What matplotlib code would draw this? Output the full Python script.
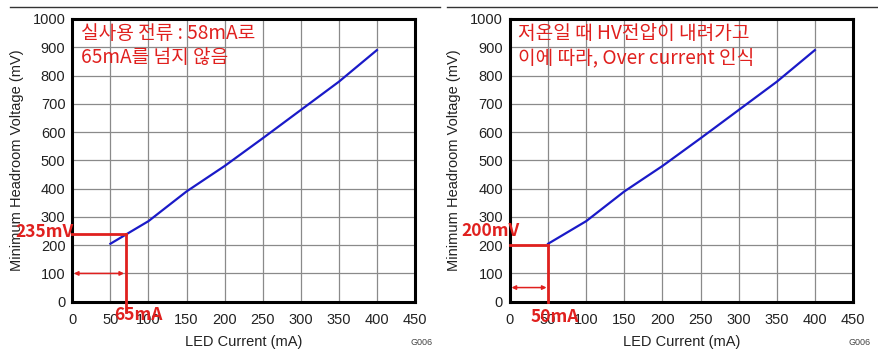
import matplotlib
matplotlib.use("Agg")
import matplotlib.pyplot as plt
from matplotlib.lines import Line2D

# Donnees
current_ma = [50, 100, 150, 200, 250, 300, 350, 400]
headroom_mv = [205, 285, 390, 480, 578, 678, 778, 890]

x_ticks = [0, 50, 100, 150, 200, 250, 300, 350, 400, 450]
y_ticks = [0, 100, 200, 300, 400, 500, 600, 700, 800, 900, 1000]

# Annotations des deux graphes
notes = ["실사용 전류 : 58mA로\n65mA를 넘지 않음",
         "저온일 때 HV전압이 내려가고\n이에 따라, Over current 인식"]
mark_current = [70, 50]
mark_volt = [238, 200]
mark_volt_label = ["235mV", "200mV"]
mark_current_label = ["65mA", "50mA"]

RED = "#e0201e"
BLUE = "#1a1ac8"
KR = ["Noto Sans CJK KR", "DejaVu Sans"]

plt.rcParams['font.family'] = ["Liberation Sans", "DejaVu Sans"]


def tracePanneau(ax, k):
    ax.plot(current_ma, headroom_mv, color=BLUE, lw=1.6, zorder=3)
    ax.set_xlim(0, 450)
    ax.set_ylim(0, 1000)
    ax.set_xticks(x_ticks)
    ax.set_yticks(y_ticks)
    ax.grid(True, color="#8a8a8a", lw=0.9)
    ax.set_axisbelow(True)
    ax.tick_params(length=0, labelsize=10.5, pad=5, colors="#222222")
    ax.tick_params(axis="x", pad=8)
    for s in ax.spines.values():
        s.set_linewidth(2.2)
        s.set_color("black")
    ax.set_xlabel("LED Current (mA)", fontsize=10.5, color="#222222")
    ax.set_ylabel("Minimum Headroom Voltage (mV)", fontsize=10.5, color="#222222")
    ax.xaxis.set_label_coords(0.5, -0.118)
    ax.yaxis.set_label_coords(-0.142, 0.5)

    # texte coreen
    ax.text(11, 906, notes[k], color=RED, fontsize=13.8, family=KR,
            va="center", ha="left", linespacing=1.2, zorder=4)

    # lignes rouges
    xc, yv = mark_current[k], mark_volt[k]
    bottom = -35 if k == 0 else 0
    ax.plot([0, xc], [yv, yv], color=RED, lw=2, clip_on=False, zorder=4)
    ax.plot([xc, xc], [yv, bottom], color=RED, lw=2, clip_on=False, zorder=4)
    ya = 100 if k == 0 else 50
    ax.annotate("", xy=(2, ya), xytext=(xc - 2, ya),
                arrowprops=dict(arrowstyle="<|-|>", color=RED, lw=1.1,
                                mutation_scale=6, shrinkA=0, shrinkB=0))

    xl = -37 if k == 0 else -25
    ax.text(xl, 246 if k == 0 else 250, mark_volt_label[k], color=RED,
            fontsize=12.5, fontweight="bold", family=KR,
            ha="center", va="center", clip_on=False, zorder=5)
    xm = 86 if k == 0 else 59
    ax.text(xm, -47 if k == 0 else -54, mark_current_label[k], color=RED,
            fontsize=12.5, fontweight="bold", family=KR,
            ha="center", va="center", clip_on=False, zorder=5)

    ax.text(1.02, -0.145, "G006", transform=ax.transAxes, fontsize=6.5,
            color="#444444", ha="center", va="center")


fig = plt.figure(figsize=(8.79, 3.57), dpi=100)
ax1 = fig.add_axes([0.0823, 0.1549, 0.3898, 0.7919])
ax2 = fig.add_axes([0.5802, 0.1549, 0.3902, 0.7919])
tracePanneau(ax1, 0)
tracePanneau(ax2, 1)

# traits du haut
fig.add_artist(Line2D([10 / 879, 440 / 879], [0.980, 0.980], color="#333333", lw=1))
fig.add_artist(Line2D([447 / 879, 877 / 879], [0.980, 0.980], color="#333333", lw=1))

fig.savefig("out.png", dpi=100)
